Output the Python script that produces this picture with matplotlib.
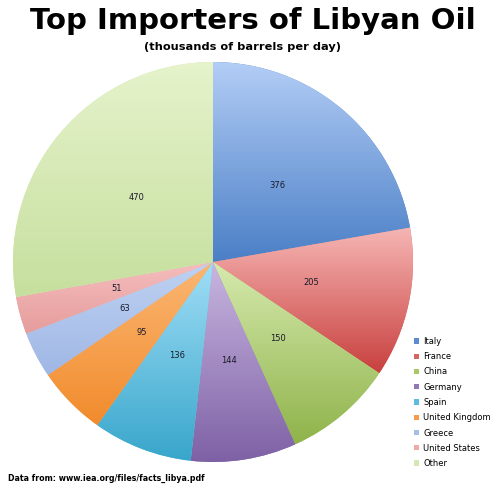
import matplotlib
matplotlib.use("Agg")
import matplotlib.pyplot as plt
import numpy as np
from matplotlib.colors import to_rgba
from matplotlib.patches import Patch

categories = ["Italy", "France", "China", "Germany", "Spain", "United Kingdom", "Greece", "United States", "Other"]
values = [376, 205, 150, 144, 136, 95, 63, 51, 470]

top_colors = ["#b3cdf6", "#f6b6b4", "#d6eaae", "#c8b6e0", "#a0def6", "#fbb774", "#bfd2f2", "#f5bdbd", "#e6f3cc"]
bot_colors = ["#4a7fc6", "#c8403e", "#8fb34a", "#7e61a5", "#38a6cb", "#f18b2c", "#9fb7e5", "#e69c9c", "#c6df9e"]
mid_colors = ["#5b8bd0", "#d46764", "#a8c868", "#9077b5", "#5bbde0", "#f79a4a", "#a6bde8", "#eea9a9", "#d4e8b4"]

W, H = 500, 493
fig = plt.figure(figsize=(W / 100, H / 100), dpi=100)
cx, cy, R = 213, 262, 200
ax = fig.add_axes([(cx - R) / W, (H - cy - R) / H, 2 * R / W, 2 * R / H])

wedges, texts = ax.pie(values, colors=mid_colors, startangle=90, counterclock=False,
                       labels=[str(v) for v in values], labeldistance=0.5,
                       wedgeprops=dict(linewidth=0),
                       textprops=dict(fontsize=6, color="#1a1a2a", ha="center", va="center"))
for t in texts:
    t.set_horizontalalignment("center")

ax.set_xlim(-1, 1)
ax.set_ylim(-1, 1)
ax.set_aspect("equal")
ax.axis("off")

for w, tc, bc in zip(wedges, top_colors, bot_colors):
    bb = w.get_path().get_extents(w.get_patch_transform())
    x0, y0, x1, y1 = bb.x0, bb.y0, bb.x1, bb.y1
    n = 256
    t = np.linspace(0, 1, n)[:, None]
    c0 = np.array(to_rgba(tc))
    c1 = np.array(to_rgba(bc))
    grad = (c0[None, :] * (1 - t) + c1[None, :] * t)[:, None, :]
    im = ax.imshow(grad, extent=[x0, x1, y0, y1], origin="upper", aspect="auto",
                   interpolation="bilinear", zorder=w.get_zorder() + 0.1)
    im.set_clip_path(w)

for t in texts:
    t.set_zorder(10)

ax.set_xlim(-1, 1)
ax.set_ylim(-1, 1)

fig.text(0.505, 1 - 21 / H, "Top Importers of Libyan Oil", ha="center", va="center",
         fontsize=21, fontweight="bold", family="DejaVu Sans")
fig.text(0.486, 1 - 47 / H, "(thousands of barrels per day)", ha="center", va="center",
         fontsize=8.2, fontweight="bold", family="DejaVu Sans")
fig.text(8 / W, 1 - 478 / H, "Data from: www.iea.org/files/facts_libya.pdf", ha="left", va="center",
         fontsize=5.7, fontweight="bold", family="DejaVu Sans")

handles = [Patch(facecolor=c, edgecolor="none") for c in mid_colors]
fig.legend(handles, categories, loc="upper left", bbox_to_anchor=(414 / W, 1 - 337 / H),
           frameon=False, fontsize=6, handlelength=0.6, handleheight=0.6,
           handletextpad=0.5, labelspacing=0.75, borderaxespad=0, borderpad=0)

fig.savefig("out.png", dpi=100)
